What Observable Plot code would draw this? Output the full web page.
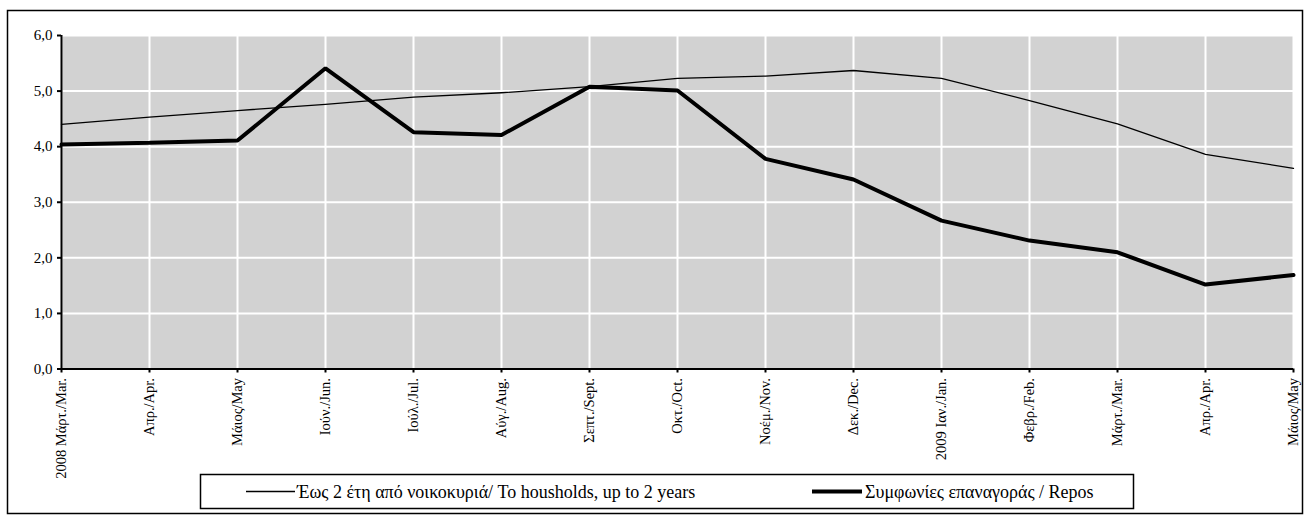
<!DOCTYPE html>
<html>
<head>
<meta charset="utf-8">
<script src="https://cdn.jsdelivr.net/npm/d3@7"></script>
<script src="https://cdn.jsdelivr.net/npm/@observablehq/plot@0.6"></script>
<style>
  html, body { margin: 0; padding: 0; background: white; }
  #chart { position: relative; width: 1305px; height: 515px; }
  svg { display: block; }
  svg text.legend-text { font-family: "Liberation Serif", serif !important; font-size: 18px !important; }
</style>
</head>
<body>
<div id="chart"></div>
<script>
// Category labels (x axis)
const months = [
  "2008 Μάρτ./Mar.", "Απρ./Apr.", "Μάιος/May", "Ιούν./Jun.", "Ιούλ./Jul.",
  "Αύγ./Aug.", "Σεπτ./Sept.", "Οκτ./Oct.", "Νοέμ./Nov.", "Δεκ./Dec.",
  "2009 Ιαν./Jan.", "Φεβρ./Feb.", "Μάρτ./Mar.", "Απρ./Apr.", "Μάιος/May"
];
// Series values
const households = [4.40, 4.53, 4.65, 4.76, 4.89, 4.97, 5.08, 5.23, 5.27, 5.37, 5.23, 4.83, 4.41, 3.86, 3.61];
const repos      = [4.04, 4.07, 4.11, 5.41, 4.26, 4.21, 5.08, 5.01, 3.78, 3.41, 2.67, 2.31, 2.10, 1.52, 1.69];
// Series names (legend)
const seriesNames = [
  "Έως 2 έτη από νοικοκυριά/ To housholds, up to 2 years",
  "Συμφωνίες επαναγοράς / Repos"
];
// Tick values
const yTicks = [0, 1, 2, 3, 4, 5, 6];
const xTicks = months.map((_, i) => i);

const rowsH = households.map((v, i) => ({ i, value: v }));
const rowsR = repos.map((v, i) => ({ i, value: v }));

const FONT = "'Liberation Serif', 'Times New Roman', serif";

const plot = Plot.plot({
  width: 1305,
  height: 515,
  marginLeft: 61,
  marginRight: 12,
  marginTop: 35,
  marginBottom: 146.5,
  x: { type: "linear", domain: [0, 14] },
  y: { domain: [0, 6] },
  style: { fontFamily: FONT, fontSize: "15px", color: "black", background: "white", overflow: "visible" },
  marks: [
    Plot.frame({ fill: "url(#stipple)", stroke: null }),
    Plot.gridY(yTicks, { stroke: "white", strokeOpacity: 1, strokeWidth: 2 }),
    Plot.gridX(xTicks, { stroke: "white", strokeOpacity: 1, strokeWidth: 2 }),
    Plot.axisY(yTicks, {
      tickSize: 4, tickPadding: 5, label: null, strokeWidth: 2,
      tickFormat: d => d.toFixed(1).replace(".", ","), fontSize: 15
    }),
    Plot.axisX(xTicks, {
      tickSize: 4, tickPadding: 5, label: null, tickRotate: -90, strokeWidth: 2,
      tickFormat: i => months[i], fontSize: 14.5
    }),
    Plot.ruleX([0], { stroke: "black", strokeWidth: 2 }),
    Plot.ruleY([0], { stroke: "black", strokeWidth: 2 }),
    Plot.line(rowsH, { x: "i", y: "value", stroke: "black", strokeWidth: 1.3 }),
    Plot.line(rowsR, { x: "i", y: "value", stroke: "black", strokeWidth: 4, strokeLinejoin: "miter" })
  ]
});

document.getElementById("chart").appendChild(plot);

const svg = d3.select(plot);
// stipple pattern
const defs = svg.insert("defs", ":first-child");
const pat = defs.append("pattern").attr("id", "stipple")
  .attr("width", 2).attr("height", 2).attr("patternUnits", "userSpaceOnUse");
pat.append("rect").attr("width", 2).attr("height", 2).attr("fill", "white");
pat.append("rect").attr("width", 1).attr("height", 1).attr("fill", "#4a4a4a");

// outer border
svg.append("rect").attr("x", 7.5).attr("y", 10.5).attr("width", 1295).attr("height", 503)
  .attr("fill", "none").attr("stroke", "black").attr("stroke-width", 1.5);

// legend
const lg = svg.append("g").attr("text-anchor", "start");
lg.append("rect").attr("x", 200.5).attr("y", 474.5).attr("width", 933).attr("height", 34)
  .attr("fill", "white").attr("stroke", "black").attr("stroke-width", 1.5);
const items = [
  { x1: 246, x2: 295, tx: 297, w: 1.3 },
  { x1: 812, x2: 862, tx: 865, w: 4 }
];
items.forEach((it, k) => {
  lg.append("line").attr("x1", it.x1).attr("x2", it.x2).attr("y1", 491.5).attr("y2", 491.5)
    .attr("stroke", "black").attr("stroke-width", it.w);
  lg.append("text").attr("class", "legend-text")
    .attr("x", it.tx).attr("y", 491.5).attr("dy", "0.35em")
    .attr("text-anchor", "start")
    .attr("fill", "black").text(seriesNames[k]);
});
</script>
</body>
</html>
